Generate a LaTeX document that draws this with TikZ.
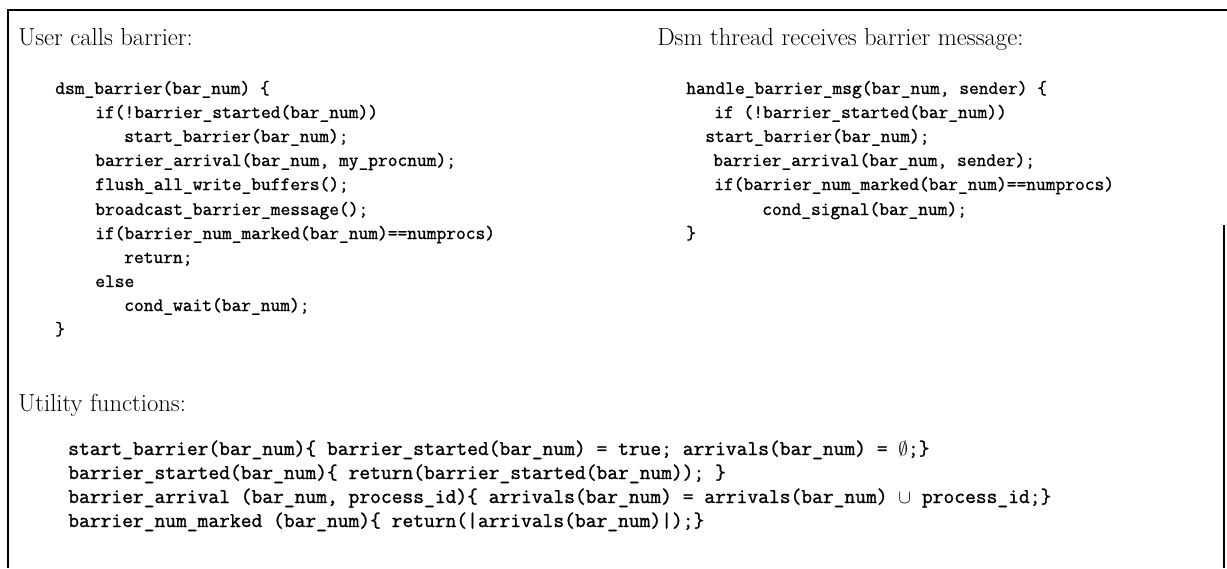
\documentclass[tikz,border=0pt]{standalone}
\usepackage{fontspec}
\newfontfamily\codefont[FakeBold=1.2]{Latin Modern Mono}
\begin{document}
\begin{tikzpicture}[x=0.75pt,y=0.75pt,yscale=-1,xscale=1,
  heading/.style={anchor=base west,inner sep=0pt,font=\fontsize{18.5}{22}\selectfont},
  codeline/.style={anchor=base west,inner sep=0pt,font=\fontsize{14.2}{17}\selectfont\codefont},
  utilline/.style={anchor=base west,inner sep=0pt,font=\fontsize{15.7}{18}\selectfont\codefont}]
\useasboundingbox (0,0) rectangle (1227,568);

%Straight Lines: frame, top and left
\draw [line width=1.1pt]  (8,568) -- (8,10) -- (1227,10) ;
%Straight Lines: frame, right
\draw [line width=1.1pt]  (1224,225) -- (1224,568) ;

% Text Node
\node [heading] (userhead) at (18,45) {User calls barrier:};
% Text Node
\node [heading] (dsmhead) at (657,45) {Dsm thread receives barrier message:};
% Text Node
\node [heading] (utilhead) at (18,411) {Utility functions:};

%Code: dsm_barrier
\node [codeline] (ua) at (55,94) {dsm\_barrier(bar\_num) \{};
\node [codeline] (ub) at (95,118) {if(!barrier\_started(bar\_num))};
\node [codeline] (uc) at (124,142) {start\_barrier(bar\_num);};
\node [codeline] (ud) at (95,166) {barrier\_arrival(bar\_num, my\_procnum);};
\node [codeline] (ue) at (95,190) {flush\_all\_write\_buffers();};
\node [codeline] (uf) at (95,215) {broadcast\_barrier\_message();};
\node [codeline] (ug) at (95,239) {if(barrier\_num\_marked(bar\_num)==numprocs)};
\node [codeline] (uh) at (124,263) {return;};
\node [codeline] (ui) at (95,287) {else};
\node [codeline] (uj) at (124,311) {cond\_wait(bar\_num);};
\node [codeline] (uk) at (55,335) {\}};

%Code: handle_barrier_msg
\node [codeline] (ha) at (686,94) {handle\_barrier\_msg(bar\_num, sender) \{};
\node [codeline] (hb) at (714,118) {if (!barrier\_started(bar\_num))};
\node [codeline] (hc) at (705,142) {start\_barrier(bar\_num);};
\node [codeline] (hd) at (713,166) {barrier\_arrival(bar\_num, sender);};
\node [codeline] (he) at (714,190) {if(barrier\_num\_marked(bar\_num)==numprocs)};
\node [codeline] (hf) at (762,215) {cond\_signal(bar\_num);};
\node [codeline] (hg) at (686,239) {\}};

%Code: utility functions
\node [utilline] (fa) at (68,455) {start\_barrier(bar\_num)\{ barrier\_started(bar\_num) = true; arrivals(bar\_num) = $\emptyset$;\}};
\node [utilline] (fb) at (68,479) {barrier\_started(bar\_num)\{ return(barrier\_started(bar\_num)); \}};
\node [utilline] (fc) at (68,503) {barrier\_arrival (bar\_num, process\_id)\{ arrivals(bar\_num) = arrivals(bar\_num) $\cup$ process\_id;\}};
\node [utilline] (fd) at (68,527) {barrier\_num\_marked (bar\_num)\{ return(|arrivals(bar\_num)|);\}};

\end{tikzpicture}
\end{document}
